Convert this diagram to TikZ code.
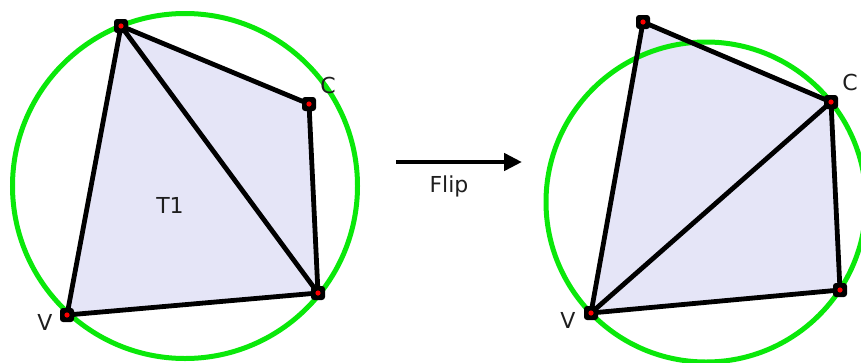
\documentclass[tikz,border=0pt]{standalone}
\usepackage{fontspec}
\setmainfont{DejaVu Sans}
\usetikzlibrary{arrows.meta,calc}
\definecolor{fillc}{RGB}{229,229,247}
\definecolor{circc}{RGB}{10,232,10}
\definecolor{labc}{RGB}{30,30,30}
\begin{document}
\begin{tikzpicture}[x=1pt,y=-1pt,
  edge/.style={line width=4.8pt, black, line join=round, line cap=round},
  circ/.style={draw=circc, line width=5pt},
  poly/.style={fill=fillc},
  lab/.style={font=\fontsize{22}{26}\selectfont, text=labc, inner sep=0pt},
  flipar/.style={line width=4.5pt, -{Triangle[length=18pt,width=17pt]}}]
\path[use as bounding box] (0,0) rectangle (861,362);
\clip (0,0) rectangle (861,362);
% left configuration
\coordinate (a1) at (121,26);
\coordinate (c1) at (309,104);
\coordinate (b1) at (318,293);
\coordinate (v1) at (67,315);
% right configuration
\coordinate (a2) at (643,22);
\coordinate (c2) at (831,102);
\coordinate (b2) at (840,290);
\coordinate (v2) at (591,313);
% fills
\fill[poly] (a1) -- (c1) -- (b1) -- (v1) -- cycle;
\fill[poly] (a2) -- (c2) -- (b2) -- (v2) -- cycle;
% circles
\draw[circ] (185,186) circle (172.5);
\draw[circ] (706,202) circle (160);
% edges
\draw[edge] (a1) -- (c1) -- (b1) -- (v1) -- cycle;
\draw[edge] (a1) -- (b1);
\draw[edge] (a2) -- (c2) -- (b2) -- (v2) -- cycle;
\draw[edge] (v2) -- (c2);
% vertex markers
\foreach \p in {a1,c1,b1,v1,a2,c2,b2,v2}{
  \fill[black, rounded corners=3pt] ($(\p)+(-7,-7)$) rectangle ($(\p)+(7,7)$);
  \fill[red] (\p) circle (2.6);
}
% labels
\node[lab] (lc1) at (328,85) {C};
\node[lab] (lv1) at (45,322) {V};
\node[lab] (lt1) at (170,205) {T1};
\node[lab] (lc2) at (850,82) {C};
\node[lab] (lv2) at (568,320) {V};
% flip arrow
\coordinate (fs) at (396,162);
\coordinate (fe) at (522,162);
\draw[flipar] (fs) -- (fe);
\node[lab] (flip) at (449,186) {Flip};
\end{tikzpicture}
\end{document}
